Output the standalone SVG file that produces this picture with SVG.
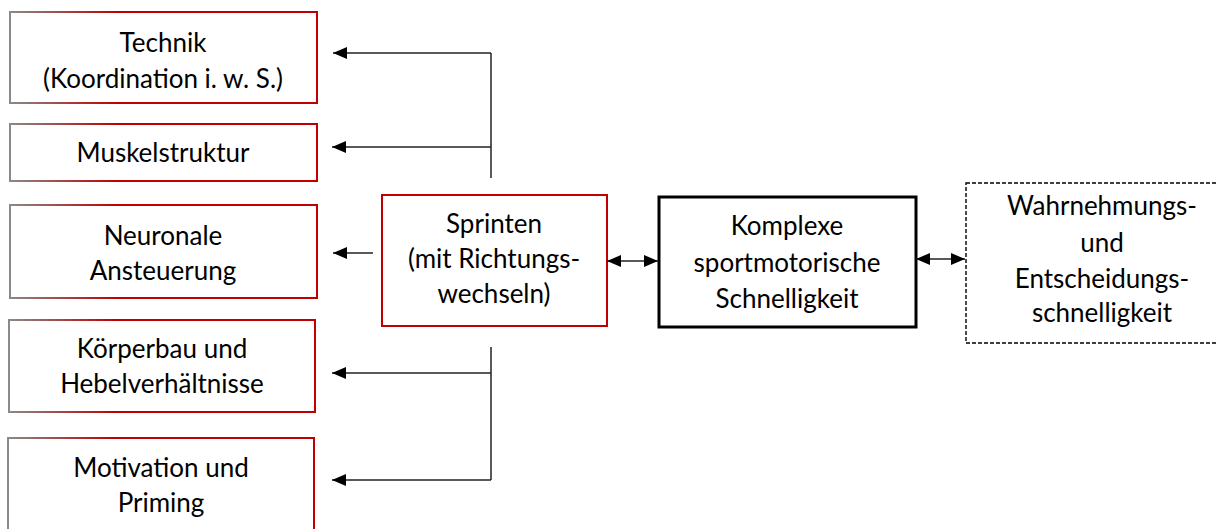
<svg xmlns="http://www.w3.org/2000/svg" width="1218" height="529" viewBox="0 0 1218 529">
<defs>
<linearGradient id="gr" x1="0" y1="0" x2="1" y2="0">
<stop offset="0" stop-color="#8a8a8a"/>
<stop offset="0.35" stop-color="#c00000"/>
<stop offset="1" stop-color="#c00000"/>
</linearGradient>
<marker id="ah" viewBox="0 0 14 12" refX="14" refY="6" markerWidth="14" markerHeight="12" markerUnits="userSpaceOnUse" orient="auto-start-reverse">
<path d="M0,0 L14,6 L0,12 Z" fill="#000"/>
</marker>
</defs>
<style>
text{font-family:Lato,"Liberation Sans",sans-serif;font-size:26px;fill:#000;text-anchor:middle}
.lb{fill:#fff;stroke:url(#gr);stroke-width:2}
.con{fill:none;stroke:#222;stroke-width:1.5}
</style>
<rect width="1218" height="529" fill="#fff"/>
<g id="technik"><rect class="lb" x="10" y="12" width="307" height="91"/><text x="163" y="52">Technik</text><text x="163" y="88">(Koordination i. w. S.)</text></g>
<g id="muskel"><rect class="lb" x="10" y="124" width="307" height="57"/><text x="163" y="162">Muskelstruktur</text></g>
<g id="neuronal"><rect class="lb" x="10" y="205" width="307" height="93"/><text x="163" y="245">Neuronale</text><text x="163" y="280">Ansteuerung</text></g>
<g id="koerperbau"><rect class="lb" x="9" y="320" width="306" height="92"/><text x="162" y="358">Körperbau und</text><text x="162" y="393">Hebelverhältnisse</text></g>
<g id="motivation"><rect class="lb" x="8" y="438" width="306" height="100"/><text x="161" y="477">Motivation und</text><text x="161" y="512">Priming</text></g>
<g id="sprinten"><rect x="382" y="195" width="225" height="131" fill="#fff" stroke="#c00000" stroke-width="2"/><text x="494" y="233">Sprinten</text><text x="494" y="268">(mit Richtungs-</text><text x="494" y="303">wechseln)</text></g>
<g id="komplex"><rect x="659" y="197" width="257" height="130" fill="#fff" stroke="#000" stroke-width="3"/><text x="787" y="235">Komplexe</text><text x="787" y="272">sportmotorische</text><text x="787" y="308">Schnelligkeit</text></g>
<g id="wahrnehmung"><rect x="966" y="183" width="270" height="160" fill="#fff" stroke="#000" stroke-width="1.4" stroke-dasharray="4,2"/><text x="1102" y="215">Wahrnehmungs-</text><text x="1102" y="252">und</text><text x="1102" y="288">Entscheidungs-</text><text x="1102" y="322">schnelligkeit</text></g>
<g id="connectors">
<path class="con" d="M491,178 V53"/>
<path class="con" d="M491,53 H333" marker-end="url(#ah)"/>
<path class="con" d="M491,147 H332" marker-end="url(#ah)"/>
<path class="con" d="M373,253 H333" marker-end="url(#ah)"/>
<path class="con" d="M607,261 H658" marker-start="url(#ah)" marker-end="url(#ah)"/>
<path class="con" d="M916,259 H965" marker-start="url(#ah)" marker-end="url(#ah)"/>
<path class="con" d="M491,347 V480"/>
<path class="con" d="M491,373 H332" marker-end="url(#ah)"/>
<path class="con" d="M491,480 H332" marker-end="url(#ah)"/>
</g>
</svg>
